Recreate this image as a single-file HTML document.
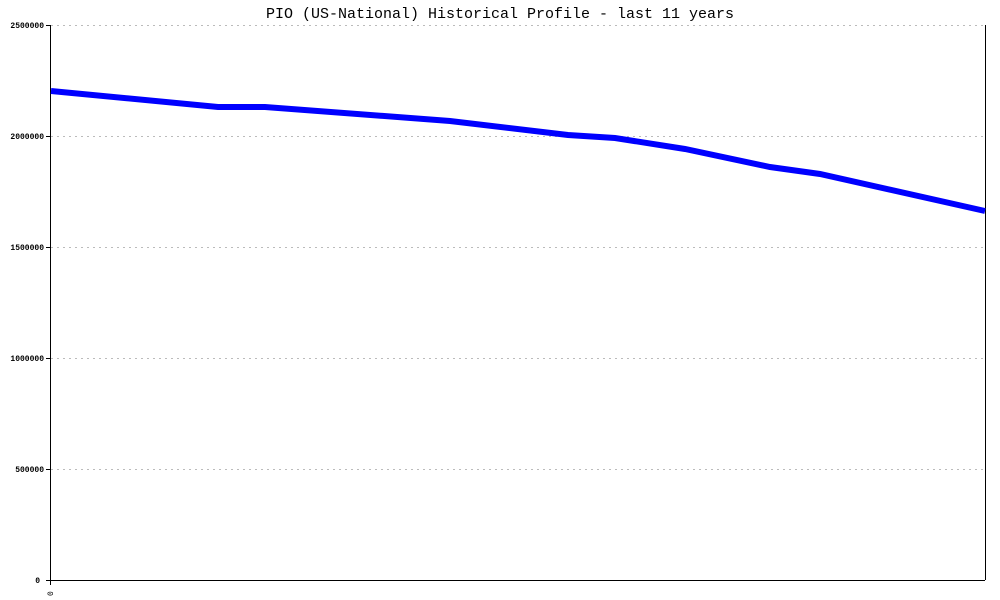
<!DOCTYPE html>
<html><head><meta charset="utf-8"><style>body{margin:0;background:#fff}svg{display:block}</style></head><body>
<svg width="1000" height="600" xmlns="http://www.w3.org/2000/svg" font-family="Liberation Mono, monospace">
<rect width="1000" height="600" fill="#fff"/>
<text x="500" y="18" text-anchor="middle" font-size="15">PIO (US-National) Historical Profile - last 11 years</text>
<g stroke="#bbb" stroke-dasharray="2,4" stroke-width="1">
<line x1="51" y1="25.5" x2="985" y2="25.5"/>
<line x1="51" y1="136.5" x2="985" y2="136.5"/>
<line x1="51" y1="247.5" x2="985" y2="247.5"/>
<line x1="51" y1="358.5" x2="985" y2="358.5"/>
<line x1="51" y1="469.5" x2="985" y2="469.5"/>
</g>
<g stroke="#000" stroke-width="1">
<line x1="50.5" y1="25" x2="50.5" y2="585"/>
<line x1="46" y1="580.5" x2="985" y2="580.5"/>
<line x1="985.5" y1="25" x2="985.5" y2="580"/>
<line x1="46" y1="25.5" x2="50" y2="25.5"/>
<line x1="46" y1="136.5" x2="50" y2="136.5"/>
<line x1="46" y1="247.5" x2="50" y2="247.5"/>
<line x1="46" y1="358.5" x2="50" y2="358.5"/>
<line x1="46" y1="469.5" x2="50" y2="469.5"/>
</g>
<g font-size="8" text-anchor="end" font-weight="bold">
<text x="44" y="28">2500000</text>
<text x="44" y="139">2000000</text>
<text x="44" y="250">1500000</text>
<text x="44" y="361">1000000</text>
<text x="44" y="472">500000</text>
<text x="40" y="583">0</text>
</g>
<text x="0" y="0" font-size="8" transform="translate(53,596) rotate(-90)">0</text>
<polyline fill="none" stroke="#0000ff" stroke-width="6" points="51,91 218,107 265,107 450,121 568,135 615,138 685,149 770,167 820,174 985,211"/>
</svg>
</body></html>
